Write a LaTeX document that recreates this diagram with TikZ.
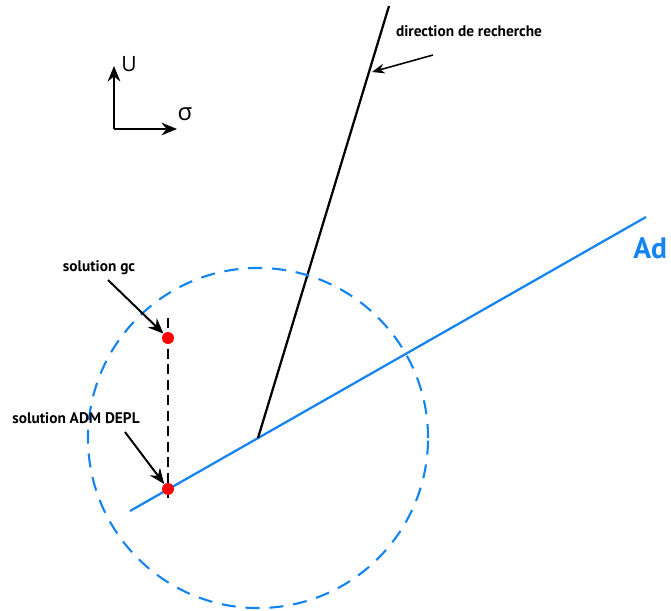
\documentclass[tikz,border=0pt]{standalone}
\usepackage{fontspec}
\setmainfont{PT Sans}
\newfontfamily\axisfont{Open Sans}
\usetikzlibrary{arrows.meta, positioning}
\definecolor{adblue}{RGB}{20,132,240}
\tikzstyle{arrow} = [thick,-{Stealth[length=11pt,width=9pt]}]
\tikzstyle{label} = [font=\bfseries\fontsize{10.9}{12}\selectfont, inner sep=1pt]
\tikzstyle{dot} = [circle, fill=red, inner sep=0pt, minimum size=8.5pt]

\begin{document}
\begin{tikzpicture}[x=0.025cm, y=-0.025cm]
    \useasboundingbox (0,0) rectangle (671,611);
    % Axes
    \coordinate (orig) at (114,129);
    \node (uaxis) [font=\axisfont\fontsize{15}{17}\selectfont] at (129,64) {U};
    \node (saxis) [font=\axisfont\fontsize{17}{18}\selectfont] at (185,114) {σ};
    \draw [arrow, line width=1.3pt] (orig) -- (114,66);
    \draw [arrow, line width=1.3pt] (orig) -- (177,129);

    % Admissible line and search direction
    \coordinate (adA) at (130,511);
    \coordinate (adB) at (646,217);
    \coordinate (foot) at (258,438);
    \coordinate (dirtop) at (389,6);
    \draw [adblue, line width=1.6pt] (adA) -- (adB);
    \node (ad) [anchor=west, adblue, font=\bfseries\fontsize{21}{24}\selectfont, inner sep=0pt] at (633,248) {Ad};
    \draw [line width=1.6pt] (foot) -- (dirtop);

    % Dashed circle
    \draw [adblue, line width=1.5pt, dash pattern=on 10pt off 7pt] (foot) circle [radius=4.25cm];

    % Solutions
    \coordinate (dtop) at (168,318);
    \coordinate (dbot) at (168,503);
    \draw [line width=1.5pt, dash pattern=on 7pt off 4pt] (dtop) -- (dbot);
    \node (gc) [dot] at (168,338) {};
    \node (adm) [dot] at (168,489) {};

    % Labels
    \node (dirlabel) [label] at (469,31) {direction de recherche};
    \coordinate (dirhit) at (372,72);
    \draw [arrow, line width=1.1pt, -{Stealth[length=9pt,width=7pt]}] (433,55) -- (dirhit);
    \node (gclabel) [label] at (99,268) {solution gc};
    \draw [arrow, line width=1.4pt] (108,280) -- (gc);
    \node (admlabel) [label] at (76,418) {solution ADM DEPL};
    \draw [arrow, line width=1.4pt] (125,432) -- (adm);
\end{tikzpicture}
\end{document}
